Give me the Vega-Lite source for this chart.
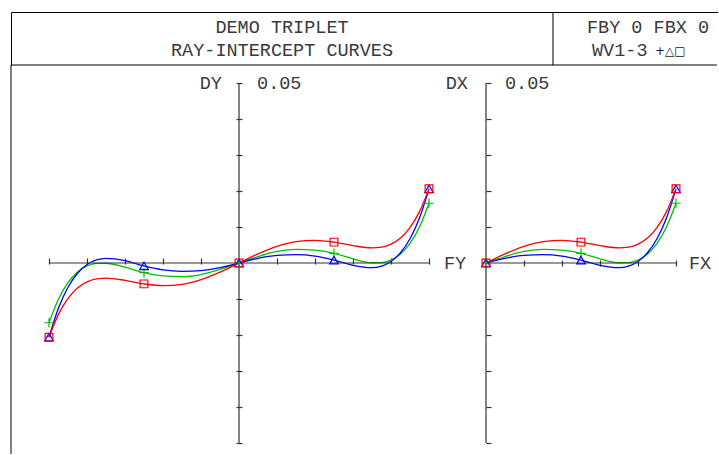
{
  "$schema": "https://vega.github.io/schema/vega-lite/v6.json",
  "background": "white",
  "padding": {"left": 10, "top": 11, "right": 0, "bottom": 0},
  "spacing": 0,
  "bounds": "flush",
  "config": {"view": {"stroke": null}, "concat": {"spacing": 0}, "axis": {"grid": false}},
  "datasets": {
    "tan": [
      {"wl": "WV1", "FY": -1, "DY": -0.0166}, {"wl": "WV1", "FY": -0.95, "DY": -0.01}, {"wl": "WV1", "FY": -0.9, "DY": -0.00543}, {"wl": "WV1", "FY": -0.85, "DY": -0.00249}, {"wl": "WV1", "FY": -0.8, "DY": -0.00082}, {"wl": "WV1", "FY": -0.75, "DY": -0.0001}, {"wl": "WV1", "FY": -0.7, "DY": -0.00007}, {"wl": "WV1", "FY": -0.6, "DY": -0.00116}, {"wl": "WV1", "FY": -0.5, "DY": -0.0027}, {"wl": "WV1", "FY": -0.4, "DY": -0.0036}, {"wl": "WV1", "FY": -0.3, "DY": -0.0038}, {"wl": "WV1", "FY": -0.2, "DY": -0.0032}, {"wl": "WV1", "FY": -0.1, "DY": -0.0018},
      {"wl": "WV1", "FY": 0, "DY": 0},
      {"wl": "WV1", "FY": 0.1, "DY": 0.0018}, {"wl": "WV1", "FY": 0.2, "DY": 0.0032}, {"wl": "WV1", "FY": 0.3, "DY": 0.0038}, {"wl": "WV1", "FY": 0.4, "DY": 0.0036}, {"wl": "WV1", "FY": 0.5, "DY": 0.0027}, {"wl": "WV1", "FY": 0.6, "DY": 0.00116}, {"wl": "WV1", "FY": 0.7, "DY": 0.00007}, {"wl": "WV1", "FY": 0.75, "DY": 0.0001}, {"wl": "WV1", "FY": 0.8, "DY": 0.00082}, {"wl": "WV1", "FY": 0.85, "DY": 0.00249}, {"wl": "WV1", "FY": 0.9, "DY": 0.00543}, {"wl": "WV1", "FY": 0.95, "DY": 0.01}, {"wl": "WV1", "FY": 1, "DY": 0.0166},

      {"wl": "WV2", "FY": -1, "DY": -0.0206}, {"wl": "WV2", "FY": -0.95, "DY": -0.01251}, {"wl": "WV2", "FY": -0.9, "DY": -0.00675}, {"wl": "WV2", "FY": -0.85, "DY": -0.00285}, {"wl": "WV2", "FY": -0.8, "DY": -0.00043}, {"wl": "WV2", "FY": -0.75, "DY": 0.00085}, {"wl": "WV2", "FY": -0.7, "DY": 0.0013}, {"wl": "WV2", "FY": -0.6, "DY": 0.00066}, {"wl": "WV2", "FY": -0.5, "DY": -0.0008}, {"wl": "WV2", "FY": -0.4, "DY": -0.0019}, {"wl": "WV2", "FY": -0.3, "DY": -0.0023}, {"wl": "WV2", "FY": -0.2, "DY": -0.0021}, {"wl": "WV2", "FY": -0.1, "DY": -0.0013},
      {"wl": "WV2", "FY": 0, "DY": 0},
      {"wl": "WV2", "FY": 0.1, "DY": 0.0013}, {"wl": "WV2", "FY": 0.2, "DY": 0.0021}, {"wl": "WV2", "FY": 0.3, "DY": 0.0023}, {"wl": "WV2", "FY": 0.4, "DY": 0.0019}, {"wl": "WV2", "FY": 0.5, "DY": 0.0008}, {"wl": "WV2", "FY": 0.6, "DY": -0.00066}, {"wl": "WV2", "FY": 0.7, "DY": -0.0013}, {"wl": "WV2", "FY": 0.75, "DY": -0.00085}, {"wl": "WV2", "FY": 0.8, "DY": 0.00043}, {"wl": "WV2", "FY": 0.85, "DY": 0.00285}, {"wl": "WV2", "FY": 0.9, "DY": 0.00675}, {"wl": "WV2", "FY": 0.95, "DY": 0.01251}, {"wl": "WV2", "FY": 1, "DY": 0.0206},

      {"wl": "WV3", "FY": -1, "DY": -0.0206}, {"wl": "WV3", "FY": -0.95, "DY": -0.01427}, {"wl": "WV3", "FY": -0.9, "DY": -0.00985}, {"wl": "WV3", "FY": -0.85, "DY": -0.00695}, {"wl": "WV3", "FY": -0.8, "DY": -0.00524}, {"wl": "WV3", "FY": -0.75, "DY": -0.0044}, {"wl": "WV3", "FY": -0.7, "DY": -0.0042}, {"wl": "WV3", "FY": -0.6, "DY": -0.00482}, {"wl": "WV3", "FY": -0.5, "DY": -0.0058}, {"wl": "WV3", "FY": -0.4, "DY": -0.00631}, {"wl": "WV3", "FY": -0.3, "DY": -0.00593}, {"wl": "WV3", "FY": -0.2, "DY": -0.00461}, {"wl": "WV3", "FY": -0.1, "DY": -0.00252},
      {"wl": "WV3", "FY": 0, "DY": 0},
      {"wl": "WV3", "FY": 0.1, "DY": 0.00252}, {"wl": "WV3", "FY": 0.2, "DY": 0.00461}, {"wl": "WV3", "FY": 0.3, "DY": 0.00593}, {"wl": "WV3", "FY": 0.4, "DY": 0.00631}, {"wl": "WV3", "FY": 0.5, "DY": 0.0058}, {"wl": "WV3", "FY": 0.6, "DY": 0.00482}, {"wl": "WV3", "FY": 0.7, "DY": 0.0042}, {"wl": "WV3", "FY": 0.75, "DY": 0.0044}, {"wl": "WV3", "FY": 0.8, "DY": 0.00524}, {"wl": "WV3", "FY": 0.85, "DY": 0.00695}, {"wl": "WV3", "FY": 0.9, "DY": 0.00985}, {"wl": "WV3", "FY": 0.95, "DY": 0.01427}, {"wl": "WV3", "FY": 1, "DY": 0.0206}
    ],
    "sag": [
      {"wl": "WV1", "FX": 0, "DX": 0}, {"wl": "WV1", "FX": 0.1, "DX": 0.0018}, {"wl": "WV1", "FX": 0.2, "DX": 0.0032}, {"wl": "WV1", "FX": 0.3, "DX": 0.0038}, {"wl": "WV1", "FX": 0.4, "DX": 0.0036}, {"wl": "WV1", "FX": 0.5, "DX": 0.0027}, {"wl": "WV1", "FX": 0.6, "DX": 0.00116}, {"wl": "WV1", "FX": 0.7, "DX": 0.00007}, {"wl": "WV1", "FX": 0.75, "DX": 0.0001}, {"wl": "WV1", "FX": 0.8, "DX": 0.00082}, {"wl": "WV1", "FX": 0.85, "DX": 0.00249}, {"wl": "WV1", "FX": 0.9, "DX": 0.00543}, {"wl": "WV1", "FX": 0.95, "DX": 0.01}, {"wl": "WV1", "FX": 1, "DX": 0.0166},
      {"wl": "WV2", "FX": 0, "DX": 0}, {"wl": "WV2", "FX": 0.1, "DX": 0.0013}, {"wl": "WV2", "FX": 0.2, "DX": 0.0021}, {"wl": "WV2", "FX": 0.3, "DX": 0.0023}, {"wl": "WV2", "FX": 0.4, "DX": 0.0019}, {"wl": "WV2", "FX": 0.5, "DX": 0.0008}, {"wl": "WV2", "FX": 0.6, "DX": -0.00066}, {"wl": "WV2", "FX": 0.7, "DX": -0.0013}, {"wl": "WV2", "FX": 0.75, "DX": -0.00085}, {"wl": "WV2", "FX": 0.8, "DX": 0.00043}, {"wl": "WV2", "FX": 0.85, "DX": 0.00285}, {"wl": "WV2", "FX": 0.9, "DX": 0.00675}, {"wl": "WV2", "FX": 0.95, "DX": 0.01251}, {"wl": "WV2", "FX": 1, "DX": 0.0206},
      {"wl": "WV3", "FX": 0, "DX": 0}, {"wl": "WV3", "FX": 0.1, "DX": 0.00252}, {"wl": "WV3", "FX": 0.2, "DX": 0.00461}, {"wl": "WV3", "FX": 0.3, "DX": 0.00593}, {"wl": "WV3", "FX": 0.4, "DX": 0.00631}, {"wl": "WV3", "FX": 0.5, "DX": 0.0058}, {"wl": "WV3", "FX": 0.6, "DX": 0.00482}, {"wl": "WV3", "FX": 0.7, "DX": 0.0042}, {"wl": "WV3", "FX": 0.75, "DX": 0.0044}, {"wl": "WV3", "FX": 0.8, "DX": 0.00524}, {"wl": "WV3", "FX": 0.85, "DX": 0.00695}, {"wl": "WV3", "FX": 0.9, "DX": 0.00985}, {"wl": "WV3", "FX": 0.95, "DX": 0.01427}, {"wl": "WV3", "FX": 1, "DX": 0.0206}
    ],
    "hdr": [{"line": "DEMO TRIPLET", "row": 1}, {"line": "RAY-INTERCEPT CURVES", "row": 2}]
  },
  "vconcat": [
    {
      "width": 707, "height": 53,
      "layer": [
        {
          "data": {"name": "hdr"},
          "mark": {"type": "text", "font": "Liberation Mono", "fontSize": 18.5, "color": "#3a3a3a", "align": "center", "baseline": "middle"},
          "encoding": {
            "x": {"datum": 0.3833, "type": "quantitative", "scale": {"domain": [0, 1], "nice": false, "zero": false},
                  "axis": {"orient": "top", "domain": true, "domainColor": "black", "domainWidth": 1, "ticks": false, "labels": false, "title": null, "grid": false}},
            "y": {"field": "row", "type": "ordinal", "scale": {"type": "point", "domain": [1, 2], "padding": 0.7045},
                  "axis": {"orient": "left", "domain": true, "domainColor": "black", "domainWidth": 1, "ticks": false, "labels": false, "title": null, "grid": false}},
            "text": {"field": "line"}
          }
        },
        {
          "data": {"values": [{"line": "FBY 0 FBX 0", "row": 1}]},
          "mark": {"type": "text", "font": "Liberation Mono", "fontSize": 18.5, "color": "#3a3a3a", "align": "center", "baseline": "middle"},
          "encoding": {
            "x": {"datum": 0.901, "type": "quantitative", "scale": {"domain": [0, 1], "nice": false, "zero": false}},
            "y": {"field": "row", "type": "ordinal", "scale": {"type": "point", "domain": [1, 2], "padding": 0.7045}},
            "text": {"field": "line"}
          }
        },
        {
          "data": {"values": [{"line": "WV1-3", "row": 2}]},
          "mark": {"type": "text", "font": "Liberation Mono", "fontSize": 18.5, "color": "#3a3a3a", "align": "left", "baseline": "middle"},
          "encoding": {
            "x": {"datum": 0.8218, "type": "quantitative", "scale": {"domain": [0, 1], "nice": false, "zero": false}},
            "y": {"field": "row", "type": "ordinal", "scale": {"type": "point", "domain": [1, 2], "padding": 0.7045}},
            "text": {"field": "line"}
          }
        },
        {
          "data": {"values": [{"line": "+△□", "row": 2}]},
          "mark": {"type": "text", "font": "DejaVu Sans", "fontSize": 12, "color": "#222", "align": "left", "baseline": "middle", "dy": 1},
          "encoding": {
            "x": {"datum": 0.9109, "type": "quantitative", "scale": {"domain": [0, 1], "nice": false, "zero": false}},
            "y": {"field": "row", "type": "ordinal", "scale": {"type": "point", "domain": [1, 2], "padding": 0.7045}},
            "text": {"field": "line"}
          }
        },
        {
          "data": {"values": [{}]},
          "mark": {"type": "rule", "color": "black", "strokeWidth": 1},
          "encoding": {
            "x": {"datum": 0.7666, "type": "quantitative", "scale": {"domain": [0, 1], "nice": false, "zero": false}}
          }
        }
      ]
    },
    {
      "width": 707, "height": 389,
      "resolve": {"scale": {"x": "independent", "y": "independent"}},
      "layer": [
        {
          "layer": [
            {
              "data": {"name": "tan"},
              "mark": {"type": "line", "interpolate": "monotone", "strokeWidth": 1.3},
              "encoding": {
                "x": {"field": "FY", "type": "quantitative", "scale": {"domain": [-1.2, 2.5210526], "nice": false, "zero": false},
                      "axis": {"orient": "bottom", "offset": -196, "values": [-1, -0.8, -0.6, -0.4, -0.2, 0.2, 0.4, 0.6, 0.8, 1], "domain": false, "labels": false, "ticks": true, "tickSize": 6, "tickWidth": 1.2, "tickColor": "#333", "title": null, "grid": false}},
                "y": {"field": "DY", "type": "quantitative", "scale": {"domain": [-0.0530556, 0.055], "nice": false, "zero": false},
                      "axis": {"orient": "left", "offset": -231, "values": [-0.05, -0.04, -0.03, -0.02, -0.01, 0.01, 0.02, 0.03, 0.04, 0.05], "domain": false, "labels": false, "ticks": true, "tickSize": 6, "tickWidth": 1.2, "tickColor": "#333", "title": null, "grid": false}},
                "color": {"field": "wl", "type": "nominal", "scale": {"domain": ["WV1", "WV2", "WV3"], "range": ["#00c000", "#0000ff", "#ff0000"]}, "legend": null}
              }
            },
            {
              "data": {"values": [{}]},
              "mark": {"type": "rule", "color": "black", "strokeWidth": 1},
              "encoding": {
                "x": {"datum": -1.2, "type": "quantitative"}
              }
            },
            {
              "data": {"values": [{}]},
              "mark": {"type": "rule", "color": "black", "strokeWidth": 1},
              "encoding": {
                "x": {"datum": -1.2, "type": "quantitative"},
                "x2": {"datum": 2.515},
                "y": {"datum": 0.055, "type": "quantitative"}
              }
            },
            {
              "data": {"values": [{}]},
              "mark": {"type": "rule", "color": "#333", "strokeWidth": 1.2},
              "encoding": {
                "x": {"datum": -1, "type": "quantitative"},
                "x2": {"datum": 1},
                "y": {"datum": 0, "type": "quantitative"}
              }
            },
            {
              "data": {"values": [{}]},
              "mark": {"type": "rule", "color": "#333", "strokeWidth": 1.2},
              "encoding": {
                "x": {"datum": 0, "type": "quantitative"},
                "y": {"datum": -0.05, "type": "quantitative"},
                "y2": {"datum": 0.05}
              }
            },
            {
              "data": {"name": "tan"},
              "transform": [{"filter": {"field": "FY", "oneOf": [-1, -0.5, 0, 0.5, 1]}}],
              "mark": {"type": "point", "filled": false, "strokeWidth": 1.2, "opacity": 1},
              "encoding": {
                "x": {"field": "FY", "type": "quantitative"},
                "y": {"field": "DY", "type": "quantitative"},
                "color": {"field": "wl", "type": "nominal", "scale": {"domain": ["WV1", "WV2", "WV3"], "range": ["#00c000", "#0000ff", "#ff0000"]}, "legend": null},
                "shape": {"field": "wl", "type": "nominal", "scale": {"domain": ["WV1", "WV2", "WV3"], "range": ["M-1,0H1M0,-1V1", "triangle-up", "square"]}, "legend": null},
                "size": {"field": "wl", "type": "nominal", "scale": {"domain": ["WV1", "WV2", "WV3"], "range": [90, 60, 56]}, "legend": null}
              }
            },
            {
              "data": {"values": [{}]},
              "mark": {"type": "text", "text": "DY", "font": "Liberation Mono", "fontSize": 18.5, "color": "#3a3a3a", "align": "right", "baseline": "middle"},
              "encoding": {
                "x": {"datum": -0.09, "type": "quantitative"},
                "y": {"datum": 0.05, "type": "quantitative"}
              }
            },
            {
              "data": {"values": [{}]},
              "mark": {"type": "text", "text": "0.05", "font": "Liberation Mono", "fontSize": 18.5, "color": "#3a3a3a", "align": "left", "baseline": "middle"},
              "encoding": {
                "x": {"datum": 0.095, "type": "quantitative"},
                "y": {"datum": 0.05, "type": "quantitative"}
              }
            },
            {
              "data": {"values": [{}]},
              "mark": {"type": "text", "text": "FY", "font": "Liberation Mono", "fontSize": 18.5, "color": "#3a3a3a", "align": "left", "baseline": "middle"},
              "encoding": {
                "x": {"datum": 1.079, "type": "quantitative"},
                "y": {"datum": 0, "type": "quantitative"}
              }
            }
          ]
        },
        {
          "layer": [
            {
              "data": {"name": "sag"},
              "mark": {"type": "line", "interpolate": "monotone", "strokeWidth": 1.3},
              "encoding": {
                "x": {"field": "FX", "type": "quantitative", "scale": {"domain": [-2.5, 1.2210526], "nice": false, "zero": false},
                      "axis": {"orient": "top", "offset": -201, "values": [0.2, 0.4, 0.6, 0.8, 1], "domain": false, "labels": false, "ticks": true, "tickSize": 6, "tickWidth": 1.2, "tickColor": "#333", "title": null, "grid": false}},
                "y": {"field": "DX", "type": "quantitative", "scale": {"domain": [-0.0530556, 0.055], "nice": false, "zero": false},
                      "axis": {"orient": "right", "offset": -232, "values": [-0.05, -0.04, -0.03, -0.02, -0.01, 0.01, 0.02, 0.03, 0.04, 0.05], "domain": false, "labels": false, "ticks": true, "tickSize": 5, "tickWidth": 1.2, "tickColor": "#333", "title": null, "grid": false}},
                "color": {"field": "wl", "type": "nominal", "scale": {"domain": ["WV1", "WV2", "WV3"], "range": ["#00c000", "#0000ff", "#ff0000"]}, "legend": null}
              }
            },
            {
              "data": {"values": [{}]},
              "mark": {"type": "rule", "color": "#333", "strokeWidth": 1.2},
              "encoding": {
                "x": {"datum": 0, "type": "quantitative"},
                "x2": {"datum": 1},
                "y": {"datum": 0, "type": "quantitative"}
              }
            },
            {
              "data": {"values": [{}]},
              "mark": {"type": "rule", "color": "#333", "strokeWidth": 1.2},
              "encoding": {
                "x": {"datum": 0, "type": "quantitative"},
                "y": {"datum": -0.05, "type": "quantitative"},
                "y2": {"datum": 0.05}
              }
            },
            {
              "data": {"name": "sag"},
              "transform": [{"filter": {"field": "FX", "oneOf": [0, 0.5, 1]}}],
              "mark": {"type": "point", "filled": false, "strokeWidth": 1.2, "opacity": 1},
              "encoding": {
                "x": {"field": "FX", "type": "quantitative"},
                "y": {"field": "DX", "type": "quantitative"},
                "color": {"field": "wl", "type": "nominal", "scale": {"domain": ["WV1", "WV2", "WV3"], "range": ["#00c000", "#0000ff", "#ff0000"]}, "legend": null},
                "shape": {"field": "wl", "type": "nominal", "scale": {"domain": ["WV1", "WV2", "WV3"], "range": ["M-1,0H1M0,-1V1", "triangle-up", "square"]}, "legend": null},
                "size": {"field": "wl", "type": "nominal", "scale": {"domain": ["WV1", "WV2", "WV3"], "range": [90, 60, 56]}, "legend": null}
              }
            },
            {
              "data": {"values": [{}]},
              "mark": {"type": "text", "text": "DX", "font": "Liberation Mono", "fontSize": 18.5, "color": "#3a3a3a", "align": "right", "baseline": "middle"},
              "encoding": {
                "x": {"datum": -0.095, "type": "quantitative"},
                "y": {"datum": 0.05, "type": "quantitative"}
              }
            },
            {
              "data": {"values": [{}]},
              "mark": {"type": "text", "text": "0.05", "font": "Liberation Mono", "fontSize": 18.5, "color": "#3a3a3a", "align": "left", "baseline": "middle"},
              "encoding": {
                "x": {"datum": 0.1, "type": "quantitative"},
                "y": {"datum": 0.05, "type": "quantitative"}
              }
            },
            {
              "data": {"values": [{}]},
              "mark": {"type": "text", "text": "FX", "font": "Liberation Mono", "fontSize": 18.5, "color": "#3a3a3a", "align": "left", "baseline": "middle"},
              "encoding": {
                "x": {"datum": 1.068, "type": "quantitative"},
                "y": {"datum": 0, "type": "quantitative"}
              }
            }
          ]
        }
      ]
    }
  ]
}
